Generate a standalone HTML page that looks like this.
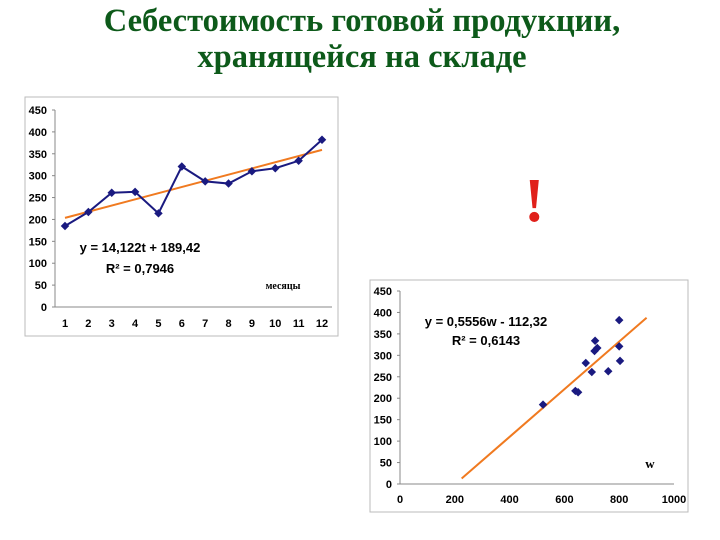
<!DOCTYPE html>
<html><head><meta charset="utf-8"><style>
body{margin:0;width:720px;height:540px;background:#fff;overflow:hidden;position:relative;font-family:"Liberation Sans",sans-serif}
.t{position:absolute;left:0;width:724px;text-align:center;font-family:"Liberation Serif","Noto Serif CJK SC",serif;font-weight:bold;color:#0d5a1a;font-size:32.5px}
</style></head><body>
<div class="t" style="top:3px">Себестоимость готовой продукции,</div>
<div class="t" style="top:39px">хранящейся на складе</div>
<div style="position:absolute;left:524px;top:166px;font-family:'Liberation Serif',serif;font-weight:bold;font-size:62px;color:#e0201a">!</div>
<svg id="c1" width="720" height="540" style="position:absolute;left:0;top:0"></svg>
<script>
const months=[1,2,3,4,5,6,7,8,9,10,11,12];
const cost=[185,217,261,263,214,321,287,282,310,317,334,382];
const yTicks1=[0,50,100,150,200,250,300,350,400,450];
const trendSlope1=14.122, trendIntercept1=189.42;
const wVals=[522,640,650,700,678,760,710,720,712,800,803,800];
const costW=[185,217,214,261,282,263,310,317,334,321,287,382];
const xTicks2=[0,200,400,600,800,1000];
const yTicks2=[0,50,100,150,200,250,300,350,400,450];
const trendSlope2=0.5556, trendIntercept2=-112.32;
const NS='http://www.w3.org/2000/svg';
const svg=document.getElementById('c1');
function mk(tag,a,name){const e=document.createElementNS(NS,tag);for(const k in a)e.setAttribute(k,a[k]);


svg.appendChild(e);return e;}
function txt(x,y,s,name,anchor,size,fam){const e=mk('text',{x:x,y:y,'font-size':size||11,'font-weight':'bold','text-anchor':anchor||'end','font-family':fam||'Liberation Sans, sans-serif',fill:'#000'},name);e.textContent=s;return e;}
// chart 1
mk('rect',{x:25,y:97,width:313,height:239,fill:'#fff',stroke:'#bbb'},'chart1-panel');
const X1=m=>65+(m-1)*(322-65)/11, Y1=v=>307-v*(307-110)/450;
mk('line',{x1:55,y1:110,x2:55,y2:307,stroke:'#888'},'chart1-y-axis');
mk('line',{x1:55,y1:307,x2:332,y2:307,stroke:'#888'},'chart1-x-axis');
yTicks1.forEach(v=>{mk('line',{x1:52,y1:Y1(v),x2:55,y2:Y1(v),stroke:'#888'},'y-tick');txt(47,Y1(v)+4,v,'y-tick-label');});
months.forEach(m=>txt(X1(m),327,m,'x-tick-label','middle'));
mk('line',{x1:X1(1),y1:Y1(trendIntercept1+trendSlope1*1),x2:X1(12),y2:Y1(trendIntercept1+trendSlope1*12)},'chart1-trendline').setAttribute('style','stroke:#f07a20;stroke-width:2');
mk('polyline',{points:months.map((m,i)=>X1(m)+','+Y1(cost[i])).join(' '),fill:'none',stroke:'#1a1a80','stroke-width':2},'chart1-series-line');
months.forEach((m,i)=>mk('rect',{x:X1(m)-3,y:Y1(cost[i])-3,width:6,height:6,fill:'#1a1a80',transform:`rotate(45 ${X1(m)} ${Y1(cost[i])})`},'chart1-point'));
txt(140,252,'y = 14,122t + 189,42','chart1-equation','middle',13);
txt(140,273,'R² = 0,7946','chart1-r2','middle',13);
txt(283,289,'месяцы','chart1-x-title','middle',10,'Liberation Serif, serif');
// chart 2
mk('rect',{x:370,y:280,width:318,height:232,fill:'#fff',stroke:'#bbb'},'chart2-panel');
const X2=w=>400+w*(674-400)/1000, Y2=v=>484-v*(484-291)/450;
mk('line',{x1:400,y1:291,x2:400,y2:484,stroke:'#888'},'chart2-y-axis');
mk('line',{x1:400,y1:484,x2:674,y2:484,stroke:'#888'},'chart2-x-axis');
yTicks2.forEach(v=>{mk('line',{x1:397,y1:Y2(v),x2:400,y2:Y2(v),stroke:'#888'},'y-tick');txt(392,Y2(v)+4,v,'y-tick-label');});
xTicks2.forEach(w=>txt(X2(w),503,w,'x-tick-label','middle'));
mk('line',{x1:X2(225),y1:Y2(trendIntercept2+trendSlope2*225),x2:X2(900),y2:Y2(trendIntercept2+trendSlope2*900)},'chart2-trendline').setAttribute('style','stroke:#f07a20;stroke-width:2');
wVals.forEach((w,i)=>mk('rect',{x:X2(w)-3,y:Y2(costW[i])-3,width:6,height:6,fill:'#1a1a80',transform:`rotate(45 ${X2(w)} ${Y2(costW[i])})`},'chart2-point'));
txt(486,326,'y = 0,5556w - 112,32','chart2-equation','middle',13);
txt(486,345,'R² = 0,6143','chart2-r2','middle',13);
txt(650,468,'w','chart2-x-title','middle',13,'Liberation Serif, serif');
</script>
</body></html>
